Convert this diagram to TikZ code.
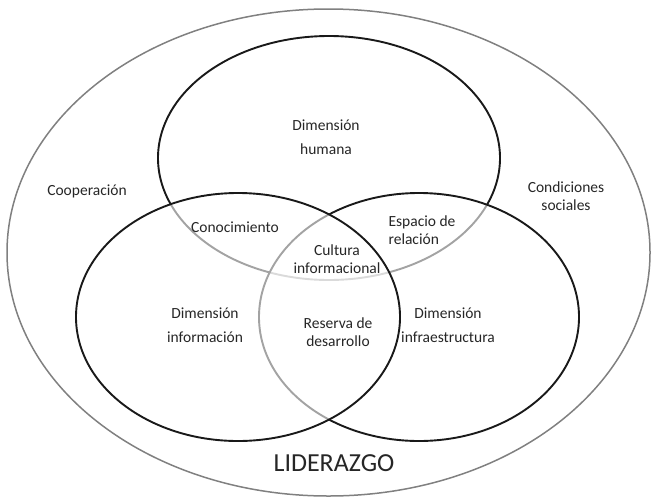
\documentclass[tikz,border=0pt]{standalone}
\usepackage{fontspec}
\setmainfont{Carlito}
\usepackage{tikz}
\usetikzlibrary{positioning, shapes.geometric}
\definecolor{ringgray}{RGB}{128,128,128}
\definecolor{textgray}{RGB}{38,38,38}
\tikzset{
outer set/.style = { ellipse, draw = ringgray, line width = 1.5pt, inner sep = 0pt },
dim set/.style = { ellipse, draw = black!90, line width = 1.9pt, fill = white, fill opacity = 0.6, inner sep = 0pt },
lbl/.style = { text = textgray, align = center, inner sep = 0pt, font = \fontsize{15.5}{18}\selectfont },
}
\begin{document}
\begin{tikzpicture}[x=1pt, y=-1pt]
      \useasboundingbox (0,0) rectangle (652,498);
      \node[outer set, minimum width = 643pt, minimum height = 487pt] (lid) at (328.5,252.5) {};
      % the three dimensions, drawn top, right, left
      \node[dim set, minimum width = 342pt, minimum height = 244pt] (hum) at (329,158) {};
      \node[dim set, minimum width = 320pt, minimum height = 248pt] (inf) at (419,317) {};
      \node[dim set, minimum width = 324pt, minimum height = 248pt] (info) at (238,317) {};
      \begin{scope}[every node/.style={lbl}]
        \node (humtxt) at (326,137) {Dimensión\\[6pt]humana};
        \node (coop) at (87,191) {Cooperación};
        \node (cond) at (566,196) {Condiciones\\sociales};
        \node (conoc) at (235,227) {Conocimiento};
        \node[align=left] (esp) at (422,230) {Espacio de\\relación};
        \node (cult) at (337,259) {Cultura\\informacional};
        \node (infotxt) at (205,325) {Dimensión\\[6pt]información};
        \node (res) at (338,332) {Reserva de\\desarrollo};
        \node (inftxt) at (448,325) {Dimensión\\[6pt]infraestructura};
        \node[font = \fontsize{26}{30}\selectfont] (lidtxt) at (334,463) {LIDERAZGO};
      \end{scope}
\end{tikzpicture}
\end{document}
